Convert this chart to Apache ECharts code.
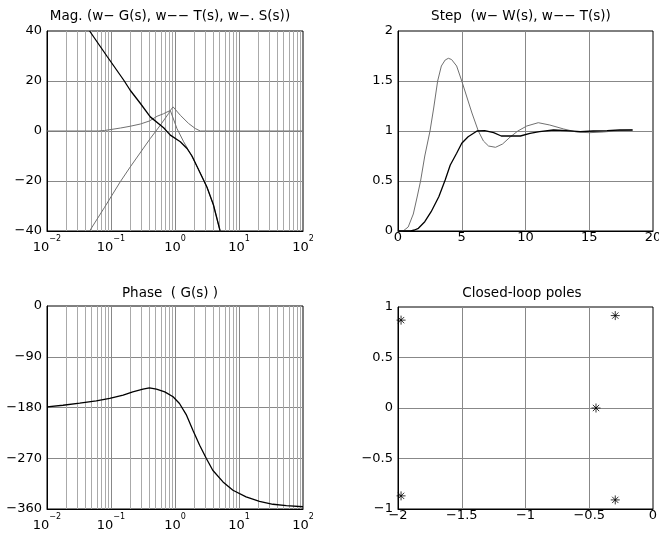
<!DOCTYPE html>
<html><head><meta charset="utf-8">
<script src="https://cdn.jsdelivr.net/npm/echarts@6/dist/echarts.min.js"></script>
<style>html,body{margin:0;padding:0;background:#fff}#c{width:659px;height:540px}</style>
</head><body><div id="c"></div>
<script>
const FONT = '"DejaVu Sans", "Liberation Sans", sans-serif';

// Titles
const titleMag = 'Mag. (w− G(s), w−− T(s), w−. S(s))';
const titleStep = 'Step  (w− W(s), w−− T(s))';
const titlePhase = 'Phase  ( G(s) )';
const titlePoles = 'Closed-loop poles';

// Magnitude plot (frequency rad/s, dB)
const gFreq = [0.0463, 0.0871, 0.1585, 0.1995, 0.2884, 0.411, 0.664, 0.845, 1.211, 1.54, 1.845, 2.239, 2.818, 3.162, 3.981, 5.012, 5.13];
const gMag  = [40, 29.8, 20.3, 16.3, 11.0, 5.65, 1.3, -1.65, -4.3, -7.0, -10.0, -14.5, -19.8, -22.5, -29.5, -39.5, -41];
const tFreq = [0.01, 0.0631, 0.0794, 0.1, 0.141, 0.1995, 0.2884, 0.398, 0.525, 0.661, 0.75, 0.845, 1.072, 1.365, 1.738, 2.239, 2.818, 3.162, 3.981, 5.012, 5.13];
const tMag  = [0, 0, 0.2, 0.6, 1.2, 1.9, 2.8, 4.0, 5.9, 6.9, 7.6, 8.2, 1.0, -4.3, -9.0, -14.5, -19.8, -22.5, -29.5, -39.5, -41];
const sFreq = [0.0463, 0.0794, 0.1396, 0.1995, 0.2704, 0.411, 0.589, 0.794, 0.845, 0.933, 1.211, 1.633, 2.075, 2.483, 100];
const sMag  = [-40, -30.5, -20.3, -14.4, -9.6, -3.0, 2.3, 7.0, 8.2, 9.65, 6.3, 3.0, 1.0, 0, 0];

// Phase plot
const phFreq = [0.01, 0.0178, 0.0324, 0.0589, 0.0955, 0.155, 0.219, 0.316, 0.398, 0.513, 0.692, 0.933, 1.175, 1.514, 1.905, 2.427, 3.09, 3.89, 5.62, 8.04, 12.9, 20.9, 33.9, 55.0, 100];
const phDeg  = [-179, -176, -172.3, -168.2, -164, -158, -152.2, -147.5, -145.1, -147.5, -152.2, -161, -172.9, -193.6, -220.2, -246.9, -270.5, -291.2, -312, -326.7, -338.6, -346.3, -351.6, -354, -356];

// Step responses
const wTime = [0, 0.4, 0.8, 1.2, 1.5, 1.77, 2.1, 2.51, 2.8, 3.11, 3.4, 3.7, 3.95, 4.2, 4.6, 5.0, 5.4, 5.8, 6.3, 6.7, 7.1, 7.65, 8.2, 8.8, 9.4, 10.1, 11.0, 11.9, 13.0, 14.0, 15.0, 16.1, 17.2, 18.4];
const wResp = [0, 0, 0.04, 0.17, 0.34, 0.5, 0.75, 1.0, 1.23, 1.5, 1.65, 1.71, 1.727, 1.715, 1.65, 1.5, 1.34, 1.18, 1.0, 0.9, 0.85, 0.837, 0.87, 0.94, 1.0, 1.05, 1.083, 1.06, 1.02, 0.99, 0.983, 0.99, 1.003, 1.01];
const tsTime = [0, 1.0, 1.3, 1.6, 2.1, 2.6, 3.2, 3.7, 4.1, 4.6, 5.0, 5.5, 6.2, 6.8, 7.5, 8.1, 8.8, 9.6, 10.35, 11.1, 12.2, 13.2, 14.3, 15.3, 16.4, 17.4, 18.4];
const tsResp = [0, 0, 0.01, 0.027, 0.093, 0.193, 0.343, 0.51, 0.66, 0.777, 0.877, 0.943, 1.0, 1.003, 0.983, 0.95, 0.95, 0.95, 0.977, 0.993, 1.01, 1.003, 0.993, 1.0, 1.003, 1.01, 1.01];

// Closed-loop poles
const poleRe = [-1.976, -0.296, -0.447, -1.976, -0.296];
const poleIm = [0.87, 0.915, 0, -0.87, -0.91];

// tick labels
const magTicks = [-40, -20, 0, 20, 40];
const phaseTicks = [-360, -270, -180, -90, 0];

const zip = (a, b) => a.map((v, i) => [v, b[i]]);
const minus = v => String(v).replace('-', '−');

// minor log grid lines (2..9 per decade)
const minorLog = [];
for (let d = -2; d < 2; d++) for (let k = 2; k <= 9; k++) minorLog.push(+(k * Math.pow(10, d)).toPrecision(3));

const axisLabelBase = { color: '#000', fontSize: 13, fontFamily: FONT };
const majorSplit = { show: true, showMinLine: false, showMaxLine: false, lineStyle: { color: '#888', width: 1 } };

function logX(gi) {
  return {
    type: 'log', logBase: 10, gridIndex: gi, min: 0.01, max: 100,
    axisLine: { show: true, onZero: false, lineStyle: { color: '#000' } },
    axisTick: { show: false },
    splitLine: majorSplit,
    axisLabel: {
      margin: 4,
      formatter: v => { const e = Math.round(Math.log10(v)); return '{b|10}{s|' + minus(e) + '}'; },
      rich: {
        b: { fontSize: 13, lineHeight: 19, verticalAlign: 'bottom', fontFamily: FONT, color: '#000' },
        s: { fontSize: 8, lineHeight: 2, verticalAlign: 'top', fontFamily: FONT, color: '#000' }
      }
    }
  };
}
function valAxis(gi, min, max, interval, margin) {
  return {
    type: 'value', gridIndex: gi, min, max, interval,
    axisLine: { show: true, onZero: false, lineStyle: { color: '#000' } },
    axisTick: { show: false },
    splitLine: majorSplit,
    axisLabel: Object.assign({}, axisLabelBase, { margin, formatter: v => minus(v) })
  };
}
function minorSeries(xi, yi) {
  return {
    type: 'line', xAxisIndex: xi, yAxisIndex: yi, data: [], silent: true,
    markLine: {
      z: 1, silent: true, symbol: ['none', 'none'], label: { show: false }, animation: false,
      lineStyle: { color: '#aaa', width: 1, type: 'solid' },
      emphasis: { disabled: true },
      data: minorLog.map(v => ({ xAxis: v }))
    }
  };
}
const lineS = (xi, yi, data, color, width, z) => ({
  type: 'line', xAxisIndex: xi, yAxisIndex: yi, data, symbol: 'none', showSymbol: false,
  lineStyle: { color, width }, z, silent: true, clip: true
});

const gridBox = { show: true, borderColor: '#000', borderWidth: 1, backgroundColor: '#fff', containLabel: false, outerBoundsMode: 'none' };
const star = 'path://M5,0L5,10M0,5L10,5M1.5,1.5L8.5,8.5M1.5,8.5L8.5,1.5';
const titleFont = '13.5px ' + FONT;

const option = {
  animation: false,
  backgroundColor: '#fff',
  grid: [
    Object.assign({ left: 47, top: 31, width: 256, height: 200 }, gridBox),
    Object.assign({ left: 398, top: 31, width: 255, height: 200 }, gridBox),
    Object.assign({ left: 47, top: 306, width: 256, height: 203 }, gridBox),
    Object.assign({ left: 398, top: 307, width: 255, height: 202 }, gridBox)
  ],
  xAxis: [
    logX(0),
    valAxis(1, 0, 20, 5, 0),
    logX(2),
    valAxis(3, -2, 0, 0.5, 0)
  ],
  yAxis: [
    valAxis(0, magTicks[0], magTicks[magTicks.length - 1], 20, 5),
    valAxis(1, 0, 2, 0.5, 5),
    valAxis(2, phaseTicks[0], phaseTicks[phaseTicks.length - 1], 90, 5),
    valAxis(3, -1, 1, 0.5, 5)
  ],
  graphic: [
    { type: 'text', x: 170, y: 16, style: { text: titleMag, font: titleFont, fill: '#000', align: 'center', verticalAlign: 'middle' } },
    { type: 'text', x: 521, y: 16, style: { text: titleStep, font: titleFont, fill: '#000', align: 'center', verticalAlign: 'middle' } },
    { type: 'text', x: 170, y: 293, style: { text: titlePhase, font: titleFont, fill: '#000', align: 'center', verticalAlign: 'middle' } },
    { type: 'text', x: 522, y: 293, style: { text: titlePoles, font: titleFont, fill: '#000', align: 'center', verticalAlign: 'middle' } }
  ],
  series: [
    minorSeries(0, 0),
    minorSeries(2, 2),
    lineS(0, 0, zip(sFreq, sMag), '#707070', 1, 3),
    lineS(0, 0, zip(tFreq, tMag), '#707070', 1, 3),
    lineS(0, 0, zip(gFreq, gMag), '#000', 1.3, 4),
    lineS(1, 1, zip(wTime, wResp), '#707070', 1, 3),
    lineS(1, 1, zip(tsTime, tsResp), '#000', 1.3, 4),
    lineS(2, 2, zip(phFreq, phDeg), '#000', 1.3, 4),
    {
      type: 'scatter', xAxisIndex: 3, yAxisIndex: 3, data: zip(poleRe, poleIm),
      symbol: star, symbolSize: 9, silent: true, clip: false,
      itemStyle: { color: 'none', borderColor: '#000', borderWidth: 1 }
    }
  ]
};
const chart = echarts.init(document.getElementById('c'), null, { renderer: 'canvas' });
chart.setOption(option);
</script></body></html>
